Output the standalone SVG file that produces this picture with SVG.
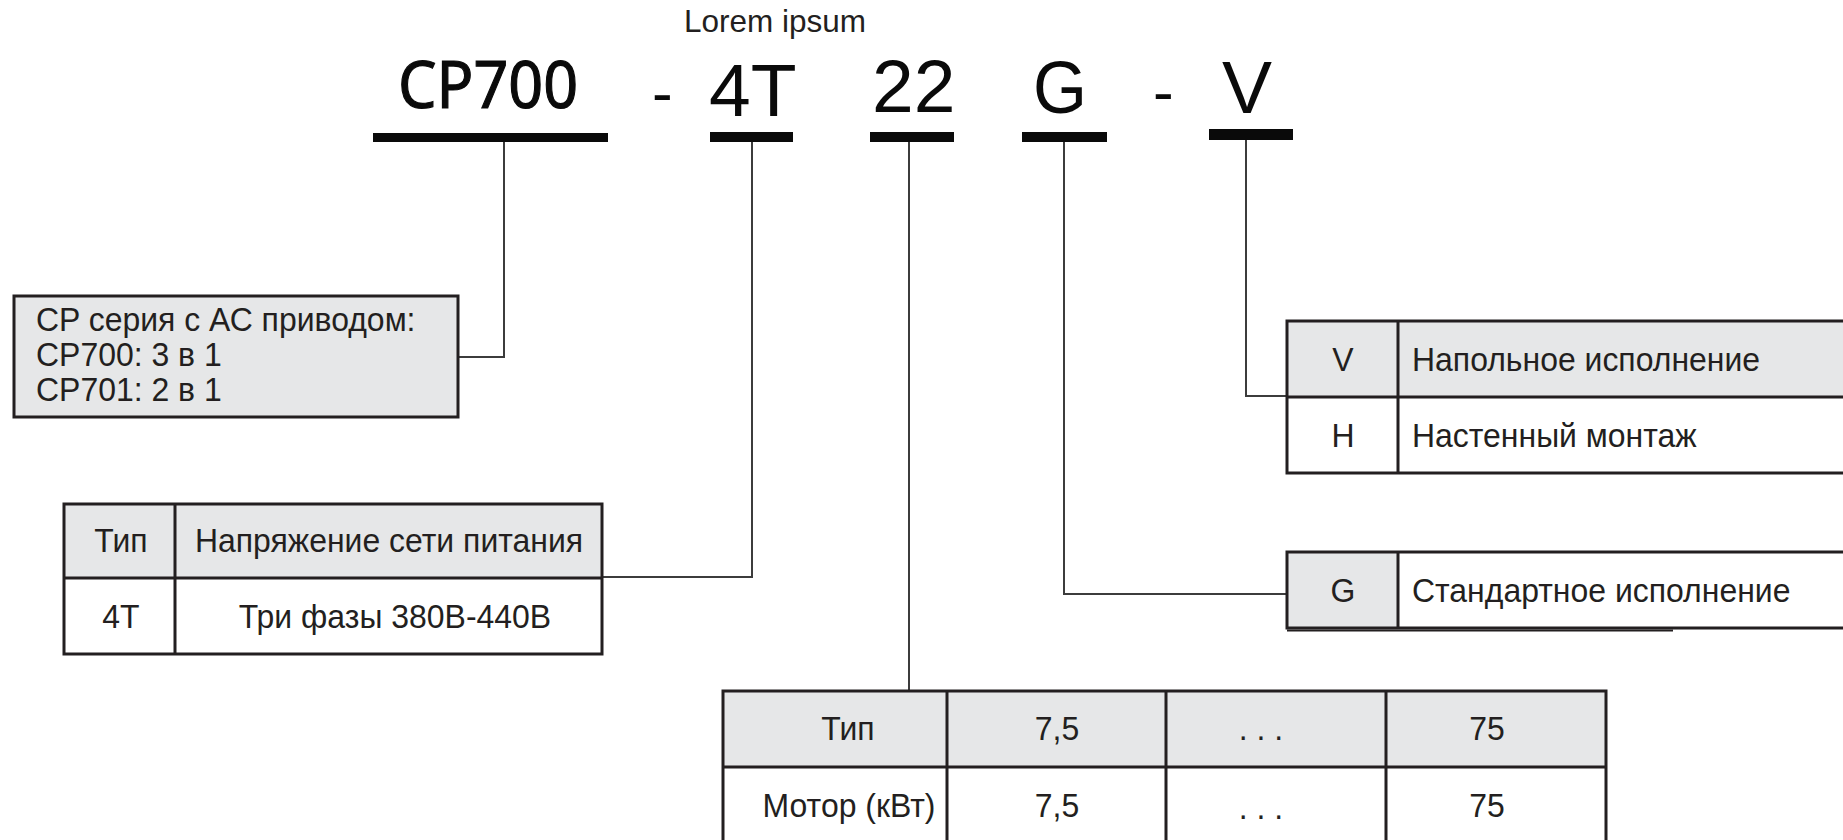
<svg xmlns="http://www.w3.org/2000/svg" width="1843" height="840" viewBox="0 0 1843 840">
  <style>
    .code { font-family: "Liberation Sans", Arial, sans-serif; fill: #0a0a0a; }
    .t { font-family: "Liberation Sans", Arial, sans-serif; font-size: 34px; fill: #231f20; }
    .mid { text-anchor: middle; }
    .bar { fill: #0a0a0a; }
    .cell { stroke: #231f20; stroke-width: 3; }
    .grey { fill: #e6e7e8; }
    .div { stroke: #231f20; stroke-width: 3; fill: none; }
    .link { stroke: #3c3c3c; stroke-width: 2; fill: none; }
  </style>

  <rect width="1843" height="840" fill="#ffffff"/>

  <!-- model code header -->
  <g id="header">
    <text x="684" y="32" font-family="Liberation Sans, Arial, sans-serif" font-size="31.5" fill="#231f20">Lorem ipsum</text>
    <text x="398" y="108" font-family="Noto Sans, sans-serif" font-size="66" fill="#0a0a0a" stroke="#0a0a0a" stroke-width="1.2" textLength="180" lengthAdjust="spacingAndGlyphs">CP700</text>
    <text class="code" x="652" y="114" font-size="62">-</text>
    <text class="code" x="709" y="116" font-size="75">4T</text>
    <text class="code" x="872" y="112" font-size="75">22</text>
    <text class="code" x="1033" y="113" font-size="75" textLength="54" lengthAdjust="spacingAndGlyphs">G</text>
    <text class="code" x="1153" y="113" font-size="62">-</text>
    <text class="code" x="1222" y="113" font-size="75">V</text>
    <rect class="bar" x="373" y="133" width="235" height="9"/>
    <rect class="bar" x="710" y="132" width="83" height="10"/>
    <rect class="bar" x="870" y="132" width="84" height="10"/>
    <rect class="bar" x="1022" y="132" width="85" height="10"/>
    <rect class="bar" x="1209" y="129" width="84" height="11"/>
  </g>

  <!-- leader lines -->
  <g id="connectors">
    <path class="link" d="M504,142 V357 H459"/>
    <path class="link" d="M752,142 V577 H603"/>
    <path class="link" d="M909,142 V691"/>
    <path class="link" d="M1064,142 V594 H1287"/>
    <path class="link" d="M1246,140 V396 H1287"/>
  </g>

  <!-- series description (text slightly condensed) -->
  <g id="series">
    <rect class="cell grey" x="14" y="296" width="444" height="121"/>
    <text class="t" transform="translate(36,331) scale(0.94,1)">CP серия с АС приводом:</text>
    <text class="t" transform="translate(36,366) scale(0.94,1)">CP700: 3 в 1</text>
    <text class="t" transform="translate(36,401) scale(0.94,1)">CP701: 2 в 1</text>
  </g>

  <!-- supply voltage table -->
  <g id="voltage">
    <rect class="grey" x="64" y="504" width="538" height="74"/>
    <rect class="cell" x="64" y="504" width="538" height="150" fill="none"/>
    <path class="div" d="M64,578 H602 M175,504 V654"/>
    <text class="t mid" transform="translate(121,552) scale(0.94,1)">Тип</text>
    <text class="t mid" transform="translate(389,552) scale(0.94,1)">Напряжение сети питания</text>
    <text class="t mid" transform="translate(121,628) scale(0.94,1)">4T</text>
    <text class="t mid" transform="translate(395,628) scale(0.94,1)">Три фазы 380В-440В</text>
  </g>

  <!-- mounting table -->
  <g id="mounting">
    <rect class="grey" x="1287" y="321" width="570" height="76"/>
    <rect class="cell" x="1287" y="321" width="570" height="152" fill="none"/>
    <path class="div" d="M1287,397 H1857 M1398,321 V473"/>
    <text class="t mid" transform="translate(1343,371) scale(0.94,1)">V</text>
    <text class="t" transform="translate(1412,371) scale(0.94,1)">Напольное исполнение</text>
    <text class="t mid" transform="translate(1343,447) scale(0.94,1)">H</text>
    <text class="t" transform="translate(1412,447) scale(0.94,1)">Настенный монтаж</text>
  </g>

  <!-- design table -->
  <g id="design">
    <rect class="grey" x="1287" y="552" width="111" height="76"/>
    <rect class="cell" x="1287" y="552" width="570" height="76" fill="none"/>
    <path class="div" d="M1398,552 V628"/>
    <path d="M1287,630.5 H1673" stroke="#231f20" stroke-width="2" fill="none"/>
    <text class="t mid" transform="translate(1343,602) scale(0.94,1)">G</text>
    <text class="t" transform="translate(1412,602) scale(0.94,1)">Стандартное исполнение</text>
  </g>

  <!-- motor power table -->
  <g id="power">
    <rect class="grey" x="723" y="691" width="883" height="76"/>
    <rect class="cell" x="723" y="691" width="883" height="160" fill="none"/>
    <path class="div" d="M723,767 H1606 M947,691 V851 M1166,691 V851 M1386,691 V851"/>
    <text class="t mid" transform="translate(848,740) scale(0.94,1)">Тип</text>
    <text class="t mid" transform="translate(1057,740) scale(0.94,1)">7,5</text>
    <text class="t mid" transform="translate(1261,740) scale(0.94,1)">. . .</text>
    <text class="t mid" transform="translate(1487,740) scale(0.94,1)">75</text>
    <text class="t mid" transform="translate(849,817) scale(0.94,1)">Мотор (кВт)</text>
    <text class="t mid" transform="translate(1057,817) scale(0.94,1)">7,5</text>
    <text class="t mid" transform="translate(1261,819) scale(0.94,1)">. . .</text>
    <text class="t mid" transform="translate(1487,817) scale(0.94,1)">75</text>
  </g>
</svg>
